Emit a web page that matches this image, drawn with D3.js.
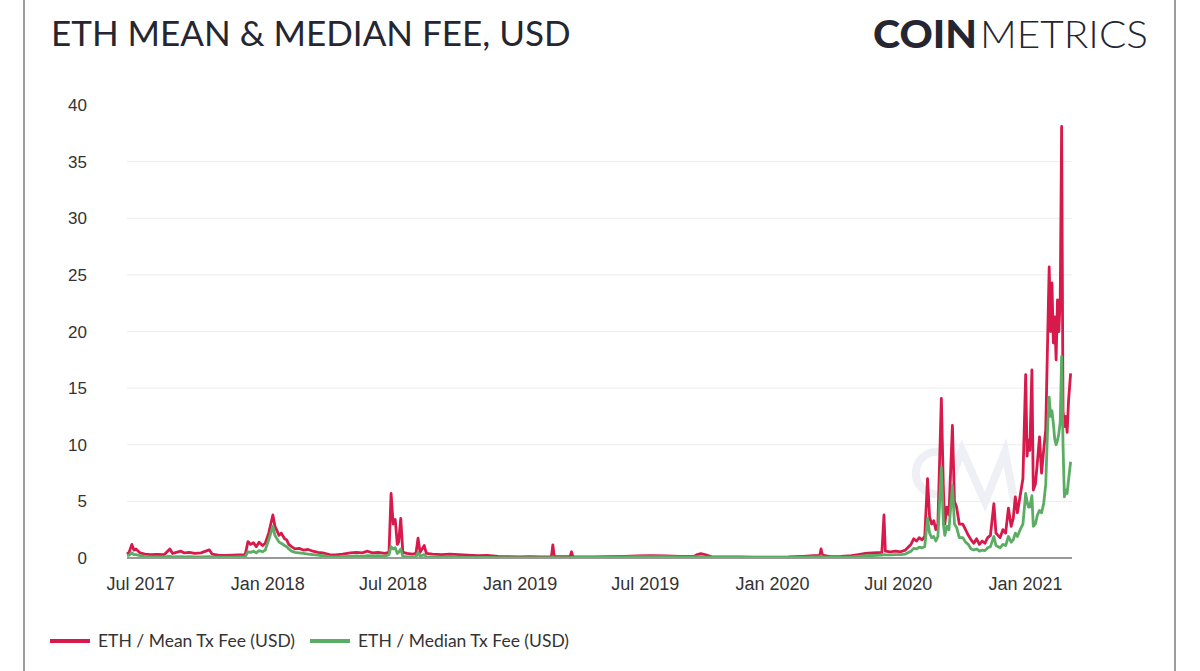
<!DOCTYPE html>
<html>
<head>
<meta charset="utf-8">
<script src="https://cdn.jsdelivr.net/npm/d3@7"></script>
<style>
  html, body { margin: 0; padding: 0; background: #fff; }
  svg { display: block; }
</style>
</head>
<body>
<svg width="1200" height="671"></svg>
<script>
// dates and values (USD per tx)
const dates = [
  '2017-06-12','2017-06-15','2017-06-19','2017-06-22','2017-06-25','2017-07-01','2017-07-08','2017-07-16','2017-07-25',
  '2017-08-05','2017-08-13','2017-08-17','2017-08-29','2017-09-03','2017-09-10','2017-09-18','2017-09-27','2017-10-09',
  '2017-10-13','2017-10-22','2017-11-01','2017-11-12','2017-11-20','2017-11-30','2017-12-04','2017-12-08','2017-12-12',
  '2017-12-16','2017-12-20','2017-12-25','2017-12-29','2018-01-03','2018-01-06','2018-01-09','2018-01-12','2018-01-15',
  '2018-01-18','2018-01-21','2018-01-26','2018-01-29','2018-02-01','2018-02-05','2018-02-10','2018-02-16','2018-02-22',
  '2018-03-01','2018-03-08','2018-03-15','2018-03-22','2018-04-01','2018-04-10','2018-04-20','2018-05-01','2018-05-10',
  '2018-05-18','2018-05-26','2018-06-02','2018-06-10','2018-06-20','2018-06-26','2018-06-29','2018-07-02','2018-07-05',
  '2018-07-08','2018-07-10','2018-07-13','2018-07-16','2018-07-22','2018-07-30','2018-08-04','2018-08-07','2018-08-10',
  '2018-08-16','2018-08-19','2018-08-28','2018-09-10','2018-09-22','2018-10-05','2018-10-18','2018-11-01','2018-11-15',
  '2018-12-01','2018-12-15','2019-01-01','2019-01-15','2019-02-01','2019-02-16','2019-02-18','2019-02-20','2019-03-01',
  '2019-03-15','2019-03-17','2019-03-19','2019-04-01','2019-04-20','2019-05-10','2019-06-01','2019-06-20','2019-07-10',
  '2019-08-01','2019-08-20','2019-09-10','2019-09-15','2019-09-20','2019-09-26','2019-10-05','2019-10-25','2019-11-15',
  '2019-12-05','2020-01-01','2020-01-25','2020-02-15','2020-03-01','2020-03-10','2020-03-12','2020-03-14','2020-03-25',
  '2020-04-10','2020-04-25','2020-05-05','2020-05-15','2020-05-25','2020-06-08','2020-06-11','2020-06-13','2020-06-20',
  '2020-06-28','2020-07-05','2020-07-12','2020-07-20','2020-07-24','2020-07-28','2020-08-01','2020-08-05','2020-08-09',
  '2020-08-13','2020-08-16','2020-08-19','2020-08-22','2020-08-25','2020-08-28','2020-09-02','2020-09-05','2020-09-07',
  '2020-09-10','2020-09-13','2020-09-18','2020-09-21','2020-09-24','2020-09-28','2020-10-03','2020-10-07','2020-10-11',
  '2020-10-15','2020-10-19','2020-10-23','2020-10-27','2020-10-31','2020-11-04','2020-11-08','2020-11-12','2020-11-17',
  '2020-11-20','2020-11-26','2020-11-30','2020-12-04','2020-12-08','2020-12-12','2020-12-15','2020-12-18','2020-12-21',
  '2020-12-25','2020-12-29','2021-01-02','2021-01-04','2021-01-06','2021-01-08','2021-01-11','2021-01-13','2021-01-16',
  '2021-01-19','2021-01-22','2021-01-25','2021-01-28','2021-01-31','2021-02-03','2021-02-05','2021-02-07','2021-02-09',
  '2021-02-11','2021-02-13','2021-02-15','2021-02-17','2021-02-19','2021-02-21','2021-02-23','2021-02-25','2021-02-27',
  '2021-03-01','2021-03-03','2021-03-05','2021-03-08'
];

const meanFee = [
  0.35,0.5,1.2,0.7,0.8,0.45,0.35,0.3,0.32,
  0.3,0.8,0.4,0.6,0.45,0.5,0.4,0.45,0.72,
  0.35,0.25,0.22,0.25,0.28,0.3,1.45,1.2,1.35,
  1.0,1.4,1.1,1.3,2.2,3.0,3.8,2.8,2.4,
  2.0,2.2,1.7,1.6,1.2,1.0,0.8,0.85,0.7,
  0.75,0.6,0.5,0.45,0.3,0.28,0.35,0.45,0.5,
  0.45,0.6,0.45,0.5,0.4,0.5,5.7,3.0,3.4,
  1.2,1.4,3.5,0.5,0.4,0.35,0.4,1.75,0.5,
  1.1,0.4,0.35,0.3,0.35,0.3,0.25,0.2,0.22,
  0.15,0.12,0.1,0.12,0.1,0.12,1.15,0.15,0.12,
  0.12,0.55,0.12,0.1,0.1,0.12,0.15,0.18,0.2,
  0.18,0.15,0.14,0.3,0.38,0.3,0.12,0.1,0.09,
  0.08,0.08,0.1,0.15,0.2,0.2,0.8,0.25,0.12,
  0.15,0.2,0.3,0.4,0.45,0.5,3.8,0.6,0.55,
  0.6,0.55,0.7,1.2,1.7,1.5,1.8,1.6,1.9,
  7.0,3.6,3.0,3.3,2.5,3.0,14.1,6.0,3.0,
  4.5,3.8,11.7,5.0,4.5,3.0,3.0,2.5,2.0,
  1.6,1.3,1.7,1.2,1.5,1.3,1.8,2.0,4.8,
  2.2,1.8,2.5,2.2,4.4,2.8,3.5,5.4,4.0,
  5.5,7.0,16.2,9.0,10.4,9.5,16.6,6.0,6.5,
  8.5,10.7,7.5,9.5,11.3,20.0,25.7,20.0,24.3,
  19.0,21.3,17.5,22.8,20.0,23.0,38.1,13.0,11.6,
  12.5,11.1,13.9,16.3
];

const medianFee = [
  0.2,0.25,0.45,0.3,0.3,0.2,0.12,0.1,0.1,
  0.1,0.15,0.1,0.12,0.1,0.12,0.1,0.1,0.12,
  0.08,0.07,0.07,0.08,0.1,0.12,0.55,0.5,0.6,
  0.45,0.65,0.55,0.7,1.6,2.2,2.8,2.0,1.7,
  1.4,1.3,1.1,1.0,0.8,0.6,0.5,0.45,0.4,
  0.35,0.3,0.25,0.2,0.12,0.1,0.12,0.15,0.18,
  0.15,0.2,0.18,0.2,0.15,0.3,1.0,0.8,0.9,
  0.4,0.5,0.8,0.15,0.12,0.1,0.12,0.5,0.15,
  0.3,0.1,0.08,0.08,0.08,0.07,0.06,0.05,0.05,
  0.04,0.04,0.03,0.03,0.03,0.04,0.1,0.05,0.04,
  0.04,0.06,0.05,0.05,0.06,0.08,0.1,0.12,0.13,
  0.12,0.1,0.09,0.12,0.13,0.1,0.07,0.06,0.05,
  0.05,0.05,0.06,0.08,0.1,0.1,0.2,0.1,0.06,
  0.08,0.1,0.15,0.2,0.22,0.25,0.3,0.28,0.28,
  0.3,0.3,0.35,0.6,0.85,0.8,0.95,0.9,1.0,
  3.5,2.2,1.8,1.9,1.5,1.9,8.0,3.0,2.0,
  2.8,2.5,6.4,3.0,2.7,1.8,1.8,1.4,1.2,
  0.8,0.7,0.8,0.6,0.7,0.65,0.9,1.0,1.9,
  1.1,0.9,1.2,1.1,1.9,1.4,1.6,2.2,1.9,
  2.5,3.0,5.7,5.0,4.5,4.5,5.5,2.8,3.0,
  3.8,4.2,4.0,4.8,6.5,12.0,14.2,12.5,13.0,
  11.9,10.5,10.0,10.4,11.0,12.0,17.8,10.0,5.4,
  6.0,5.7,6.9,8.5
];

const yTicks = [0, 5, 10, 15, 20, 25, 30, 35, 40];
const xTicks = ['2017-07-01','2018-01-01','2018-07-01','2019-01-01','2019-07-01','2020-01-01','2020-07-01','2021-01-01'];

const parse = d3.timeParse('%Y-%m-%d');
const data = dates.map((d, i) => ({ date: parse(d), mean: meanFee[i], median: medianFee[i] }));

const svg = d3.select('svg');
const red = '#d7194b';
const green = '#5aad62';

// frame lines left / right
svg.append('line').attr('x1', 24).attr('x2', 24).attr('y1', 0).attr('y2', 671)
  .attr('stroke', '#9c9c9c').attr('stroke-width', 2);
svg.append('line').attr('x1', 1175).attr('x2', 1175).attr('y1', 0).attr('y2', 671)
  .attr('stroke', '#9c9c9c').attr('stroke-width', 2);

// title + logo
svg.append('text').attr('x', 51).attr('y', 46)
  .attr('font-family', 'Lato, sans-serif').attr('font-size', 35)
  .attr('fill', '#252631').text('ETH MEAN & MEDIAN FEE, USD');

const logo = svg.append('text').attr('x', 873).attr('y', 48)
  .attr('font-family', 'Lato, sans-serif').attr('font-size', 38).attr('fill', '#252631');
logo.append('tspan').attr('font-weight', 900).attr('textLength', 104)
  .attr('lengthAdjust', 'spacingAndGlyphs').text('COIN');
logo.append('tspan').attr('font-weight', 300).attr('dx', 3).attr('textLength', 168)
  .attr('lengthAdjust', 'spacingAndGlyphs').text('METRICS');

const x = d3.scaleTime()
  .domain([parse('2017-06-12'), parse('2021-03-10')])
  .range([127, 1072]);
const y = d3.scaleLinear().domain([0, 40]).range([558, 105]);

// grid
svg.append('g').selectAll('line')
  .data(yTicks.filter(t => t > 0 && t < 40))
  .enter().append('line')
  .attr('x1', 127).attr('x2', 1072)
  .attr('y1', d => y(d)).attr('y2', d => y(d))
  .attr('stroke', '#ececec').attr('stroke-width', 1);

// watermark
const wm = svg.append('g').attr('fill', 'none').attr('stroke', '#eef0f5')
  .attr('stroke-width', 8).attr('stroke-linecap', 'round');
wm.append('path').attr('d', 'M 940 452 A 21 21 0 1 0 934 494');
wm.append('path').attr('d', 'M 942 506 L 962 450 L 985 502 L 1005 452 L 1014 500');

// y labels
svg.append('g').selectAll('text')
  .data(yTicks).enter().append('text')
  .attr('x', 87).attr('y', d => y(d) + 6)
  .attr('text-anchor', 'end')
  .attr('font-family', '"Liberation Sans", Arial, sans-serif')
  .attr('font-size', 17).attr('fill', '#333')
  .text(d => d);

// x axis
const xAxis = d3.axisBottom(x)
  .tickValues(xTicks.map(parse))
  .tickFormat(d3.timeFormat('%b %Y'))
  .tickSize(0).tickPadding(19);
const gx = svg.append('g').attr('transform', 'translate(0,558)').call(xAxis);
gx.select('.domain').remove();
gx.selectAll('text')
  .attr('font-family', '"Liberation Sans", Arial, sans-serif')
  .attr('font-size', 18).attr('fill', '#333');

// lines
const lineMean = d3.line().x(d => x(d.date)).y(d => y(d.mean));
const lineMedian = d3.line().x(d => x(d.date)).y(d => y(d.median));

svg.append('path').datum(data).attr('d', lineMean)
  .attr('fill', 'none').attr('stroke', red).attr('stroke-width', 2.8)
  .attr('stroke-linejoin', 'round');
svg.append('path').datum(data).attr('d', lineMedian)
  .attr('fill', 'none').attr('stroke', green).attr('stroke-width', 2.8)
  .attr('stroke-linejoin', 'round');

// baseline
svg.append('line').attr('x1', 127).attr('x2', 1072)
  .attr('y1', 558).attr('y2', 558)
  .attr('stroke', '#999').attr('stroke-width', 2);

// legend
const legend = [
  { name: 'ETH / Mean Tx Fee (USD)', color: red, x: 50 },
  { name: 'ETH / Median Tx Fee (USD)', color: green, x: 310 }
];
const lg = svg.append('g').selectAll('g').data(legend).enter().append('g')
  .attr('transform', d => `translate(${d.x},641)`);
lg.append('line').attr('x1', 0).attr('x2', 40).attr('y1', 0).attr('y2', 0)
  .attr('stroke', d => d.color).attr('stroke-width', 4);
lg.append('text').attr('x', 48).attr('y', 6)
  .attr('font-family', 'Lato, sans-serif').attr('font-size', 17.5)
  .attr('fill', '#333').text(d => d.name);
</script>
</body>
</html>
